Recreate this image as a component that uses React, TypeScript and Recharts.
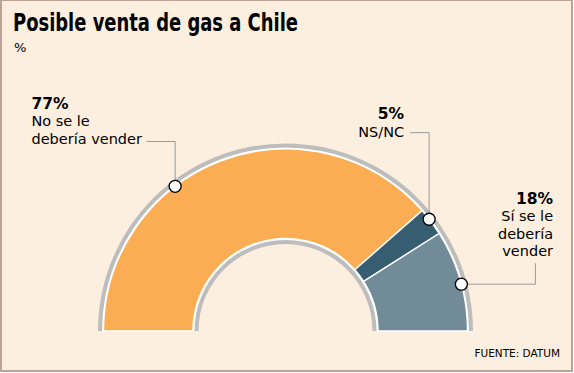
import React from 'react';
import { PieChart, Pie, Cell } from 'recharts';

// ---- data ----
const categories = ['No se le debería vender', 'NS/NC', 'Sí se le debería vender'];
const values = [77, 5, 18];
const percentLabels = ['77%', '5%', '18%'];
const labelLines = [['No se le', 'debería vender'], ['NS/NC'], ['Sí se le', 'debería', 'vender']];
const sliceColors = ['#fbad53', '#365e70', '#718b99'];

const title = 'Posible venta de gas a Chile';
const subtitle = '%';
const source = 'FUENTE: DATUM';

const tableData = categories.map((name, i) => ({ name, value: values[i] }));
const bandData = [{ name: 'band', value: 1 }];

// ---- layout (styles, not data) ----
const CX = 285.5;
const CY = 331;
const BG = '#fcefdf';
const RING = '#bdbdbd';
const LEADER = '#9a9a9a';
const FONT = "'DejaVu Sans', Verdana, sans-serif";

// marker position within the slice (fraction of its angular span), leader path and text block, relative to marker
const labelLayout = [
  { frac: 0.38, path: [[0, -44.8], [-28.4, -44.8]], tx: -143.7, ty: -77.5, anchor: 'start' },
  { frac: 0.39, path: [[0, -86.6], [-19, -86.6]], tx: -25, ty: -100, anchor: 'end' },
  { frac: 0.54, path: [[74, 0], [74, -21]], tx: 91.7, ty: -80.3, anchor: 'end' },
];

const RAD = Math.PI / 180;

function makeBand(drop: number) {
  return (props: any) => {
    const { cx, cy, innerRadius: ri, outerRadius: ro, fill } = props;
    const d = `M ${cx - ro} ${cy + drop} L ${cx - ro} ${cy} A ${ro} ${ro} 0 0 1 ${cx + ro} ${cy} L ${cx + ro} ${cy + drop} L ${cx + ri} ${cy + drop} L ${cx + ri} ${cy} A ${ri} ${ri} 0 0 0 ${cx - ri} ${cy} L ${cx - ri} ${cy + drop} Z`;
    return <path d={d} fill={fill} stroke="none" />;
  };
}
const grayBand = makeBand(4);
const whiteBand = makeBand(1.3);

function renderLabel(props: any) {
  const { cx, cy, outerRadius, startAngle, endAngle, index } = props;
  const lay = labelLayout[index];
  if (!lay) return null;
  const ang = startAngle + lay.frac * (endAngle - startAngle);
  const mx = cx + outerRadius * Math.cos(ang * RAD);
  const my = cy - outerRadius * Math.sin(ang * RAD);
  const pts = [[mx, my], ...lay.path.map(([dx, dy]) => [mx + dx, my + dy])];
  const lineH = 17.5;
  const tx = mx + lay.tx;
  const ty = my + lay.ty;
  return (
    <g key={`lab-${index}`}>
      <polyline points={pts.map((p) => p.join(',')).join(' ')} fill="none" stroke={LEADER} strokeWidth={1} />
      <circle cx={mx} cy={my} r={6} fill="#ffffff" stroke="#000000" strokeWidth={1.3} />
      <text x={tx} y={ty} textAnchor={lay.anchor} fontFamily={FONT} fill="#000">
        <tspan x={tx} y={ty} fontWeight="bold" fontSize={15.5}>{percentLabels[index]}</tspan>
        {labelLines[index].map((ln, k) => (
          <tspan key={k} x={tx} y={ty + lineH * (k + 1)} fontSize={14.5}>{ln}</tspan>
        ))}
      </text>
    </g>
  );
}

export default function App() {
  return (
    <div style={{ position: 'absolute', left: 0, top: 0, width: 574, height: 373, background: '#ffffff' }}>
      <div
        style={{
          position: 'absolute', left: 0, top: 0, width: 573, height: 372, boxSizing: 'border-box',
          border: '2px solid #bba496', borderTopWidth: 1, background: BG,
        }}
      />
      <div style={{ position: 'absolute', left: 0, top: 0 }}>
        <PieChart width={574} height={373} margin={{ top: 0, right: 0, bottom: 0, left: 0 }}>
          <Pie
            data={bandData} dataKey="value" cx={CX} cy={CY} startAngle={180} endAngle={0}
            innerRadius={87} outerRadius={187.5} fill={RING} stroke="none"
            isAnimationActive={false} inactiveShape={grayBand} activeShape={grayBand}
          />
          <Pie
            data={bandData} dataKey="value" cx={CX} cy={CY} startAngle={180} endAngle={0}
            innerRadius={91} outerRadius={183.5} fill="#ffffff" stroke="none"
            isAnimationActive={false} inactiveShape={whiteBand} activeShape={whiteBand}
          />
          <Pie
            data={tableData} dataKey="value" nameKey="name" cx={CX} cy={CY} startAngle={180} endAngle={0}
            innerRadius={92.5} outerRadius={182} stroke="#ffffff" strokeWidth={1.4}
            isAnimationActive={false} label={renderLabel} labelLine={false}
          >
            {tableData.map((d, i) => (
              <Cell key={d.name} fill={sliceColors[i]} />
            ))}
          </Pie>
        </PieChart>
      </div>
      <svg width={574} height={373} style={{ position: 'absolute', left: 0, top: 0, pointerEvents: 'none' }}>
        <text
          x={13} y={31} fontFamily="'Liberation Sans Narrow', 'DejaVu Sans Condensed', 'DejaVu Sans', sans-serif"
          fontWeight="bold" fontSize={25} textLength={285} lengthAdjust="spacingAndGlyphs" fill="#000"
        >
          {title}
        </text>
        <text x={14} y={52} fontFamily={FONT} fontSize={13} fill="#000">{subtitle}</text>
        <text x={560} y={357} textAnchor="end" fontFamily={FONT} fontSize={10.5} fill="#000">{source}</text>
      </svg>
    </div>
  );
}
